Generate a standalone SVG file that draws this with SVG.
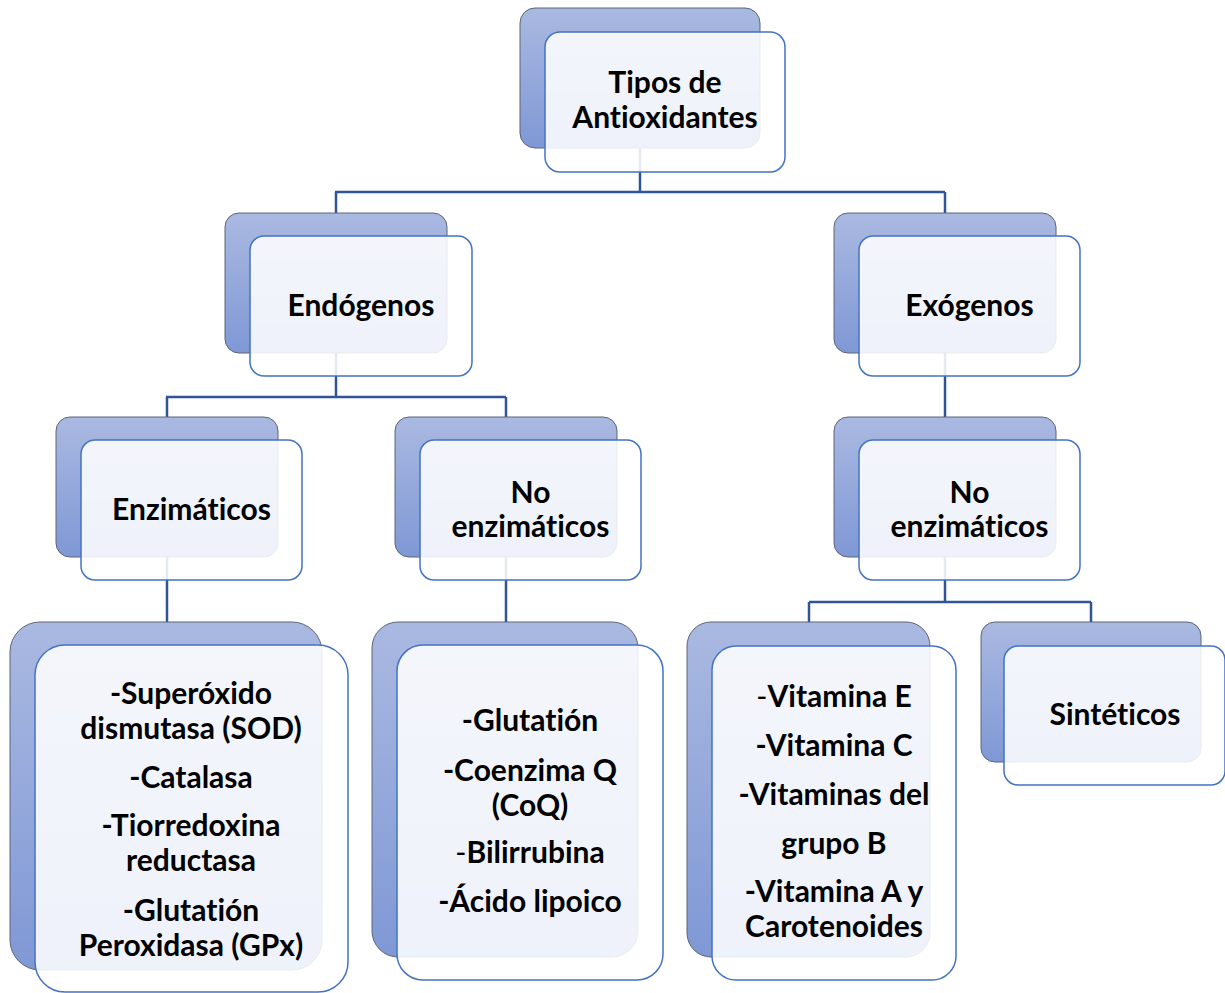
<svg xmlns="http://www.w3.org/2000/svg" width="1225" height="993" viewBox="0 0 1225 993">
<defs>
<linearGradient id="g" x1="0" y1="0" x2="0" y2="1">
<stop offset="0" stop-color="#aab9e1"/>
<stop offset="1" stop-color="#7f98d5"/>
</linearGradient>
<style>
.back{fill:url(#g);stroke:#5c6478;stroke-width:1}
.front{fill:#ffffff;fill-opacity:0.87;stroke:#4472c4;stroke-width:1.5}
.conn{fill:none;stroke:#2f5597;stroke-width:2.5}
text{font-family:Lato,"Liberation Sans",sans-serif;font-weight:bold;font-size:30px;fill:#000;text-anchor:middle;font-variant-ligatures:none}
.thin{font-weight:normal}
</style>
</defs>
<rect width="1225" height="993" fill="#ffffff"/>
<g id="connectors">
<path class="conn" d="M640 148V192M335 192H945M336 192V213M945 192V213"/>
<path class="conn" d="M336 353V397M166 397H506M167 397V417M506 397V417"/>
<path class="conn" d="M945 353V417"/>
<path class="conn" d="M167 557V622M506 557V622"/>
<path class="conn" d="M945 557V602M809 602H1091M809 602V622M1091 602V622"/>
</g>
<g id="root">
<rect class="back" x="520" y="8" width="240" height="140" rx="15"/>
<rect class="front" x="545" y="32" width="240" height="140" rx="15"/>
<text x="665" y="93">Tipos de</text>
<text x="665" y="128">Antioxidantes</text>
</g>
<g id="endogenos">
<rect class="back" x="225" y="213" width="222" height="140" rx="14"/>
<rect class="front" x="250" y="236" width="222" height="140" rx="14"/>
<text x="361" y="316">Endógenos</text>
</g>
<g id="exogenos">
<rect class="back" x="834" y="213" width="222" height="140" rx="14"/>
<rect class="front" x="859" y="236" width="221" height="140" rx="14"/>
<text x="969.5" y="316">Exógenos</text>
</g>
<g id="enzimaticos">
<rect class="back" x="56" y="417" width="222" height="140" rx="14"/>
<rect class="front" x="81" y="440" width="221" height="140" rx="14"/>
<text x="191.5" y="520">Enzimáticos</text>
</g>
<g id="no-enzimaticos-endo">
<rect class="back" x="395" y="417" width="222" height="140" rx="14"/>
<rect class="front" x="420" y="440" width="221" height="140" rx="14"/>
<text x="530.5" y="503">No</text>
<text x="530.5" y="537">enzimáticos</text>
</g>
<g id="no-enzimaticos-exo">
<rect class="back" x="834" y="417" width="222" height="140" rx="14"/>
<rect class="front" x="859" y="440" width="221" height="140" rx="14"/>
<text x="969.5" y="503">No</text>
<text x="969.5" y="537">enzimáticos</text>
</g>
<g id="lista-enzimaticos">
<rect class="back" x="10" y="622" width="312" height="348" rx="30"/>
<rect class="front" x="35" y="645" width="313" height="347" rx="30"/>
<text x="191" y="704">-Superóxido</text>
<text x="191" y="739">dismutasa (SOD)</text>
<text x="191" y="788">-Catalasa</text>
<text x="191" y="836">-Tiorredoxina</text>
<text x="191" y="871">reductasa</text>
<text x="191" y="921">-Glutatión</text>
<text x="191" y="956">Peroxidasa (GPx)</text>
</g>
<g id="lista-no-enzimaticos">
<rect class="back" x="372" y="622" width="266" height="335" rx="26"/>
<rect class="front" x="397" y="645" width="266" height="335" rx="26"/>
<text x="530" y="731">-Glutatión</text>
<text x="530" y="781">-Coenzima Q</text>
<text x="530" y="816">(CoQ)</text>
<text x="530" y="863"><tspan class="thin">-</tspan>Bilirrubina</text>
<text x="530" y="912">-Ácido lipoico</text>
</g>
<g id="lista-vitaminas">
<rect class="back" x="687" y="622" width="243" height="335" rx="24"/>
<rect class="front" x="712" y="646" width="244" height="334" rx="24"/>
<text x="834" y="707"><tspan class="thin">-</tspan>Vitamina E</text>
<text x="834" y="756">-Vitamina C</text>
<text x="834" y="805">-Vitaminas del</text>
<text x="834" y="854">grupo B</text>
<text x="834" y="902">-Vitamina A y</text>
<text x="834" y="937">Carotenoides</text>
</g>
<g id="sinteticos">
<rect class="back" x="981" y="622" width="220" height="140" rx="14"/>
<rect class="front" x="1004" y="646" width="221" height="139" rx="14"/>
<text x="1115" y="725">Sintéticos</text>
</g>
</svg>
